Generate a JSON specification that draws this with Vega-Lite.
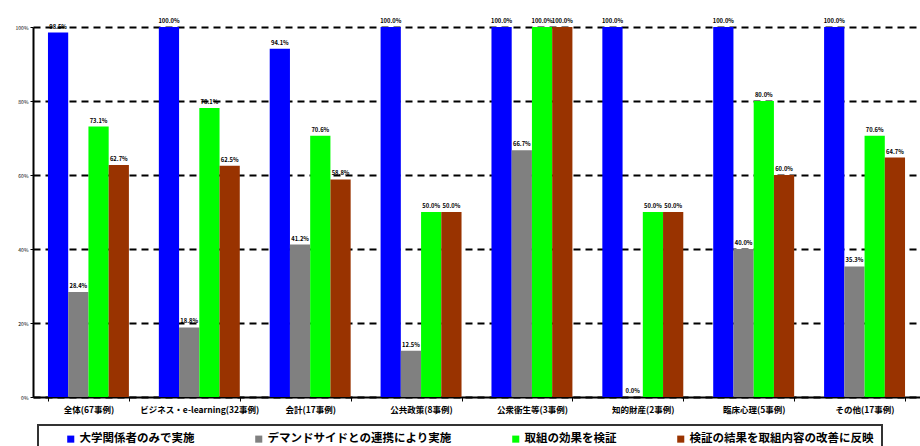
{
  "$schema": "https://vega.github.io/schema/vega-lite/v6.json",
  "width": 887,
  "height": 370,
  "autosize": {"type": "none"},
  "padding": {"left": 33, "top": 27, "right": 0, "bottom": 49},
  "background": "white",
  "config": {
    "font": "Noto Sans CJK JP",
    "view": {"stroke": null}
  },
  "data": {
    "values": [
      {"c": "全体(67事例)", "s": "大学関係者のみで実施", "v": 0.985},
      {"c": "全体(67事例)", "s": "デマンドサイドとの連携により実施", "v": 0.284},
      {"c": "全体(67事例)", "s": "取組の効果を検証", "v": 0.731},
      {"c": "全体(67事例)", "s": "検証の結果を取組内容の改善に反映", "v": 0.627},
      {"c": "ビジネス・e-learning(32事例)", "s": "大学関係者のみで実施", "v": 1.0},
      {"c": "ビジネス・e-learning(32事例)", "s": "デマンドサイドとの連携により実施", "v": 0.188},
      {"c": "ビジネス・e-learning(32事例)", "s": "取組の効果を検証", "v": 0.781},
      {"c": "ビジネス・e-learning(32事例)", "s": "検証の結果を取組内容の改善に反映", "v": 0.625},
      {"c": "会計(17事例)", "s": "大学関係者のみで実施", "v": 0.941},
      {"c": "会計(17事例)", "s": "デマンドサイドとの連携により実施", "v": 0.412},
      {"c": "会計(17事例)", "s": "取組の効果を検証", "v": 0.706},
      {"c": "会計(17事例)", "s": "検証の結果を取組内容の改善に反映", "v": 0.588},
      {"c": "公共政策(8事例)", "s": "大学関係者のみで実施", "v": 1.0},
      {"c": "公共政策(8事例)", "s": "デマンドサイドとの連携により実施", "v": 0.125},
      {"c": "公共政策(8事例)", "s": "取組の効果を検証", "v": 0.5},
      {"c": "公共政策(8事例)", "s": "検証の結果を取組内容の改善に反映", "v": 0.5},
      {"c": "公衆衛生等(3事例)", "s": "大学関係者のみで実施", "v": 1.0},
      {"c": "公衆衛生等(3事例)", "s": "デマンドサイドとの連携により実施", "v": 0.667},
      {"c": "公衆衛生等(3事例)", "s": "取組の効果を検証", "v": 1.0},
      {"c": "公衆衛生等(3事例)", "s": "検証の結果を取組内容の改善に反映", "v": 1.0},
      {"c": "知的財産(2事例)", "s": "大学関係者のみで実施", "v": 1.0},
      {"c": "知的財産(2事例)", "s": "デマンドサイドとの連携により実施", "v": 0.0},
      {"c": "知的財産(2事例)", "s": "取組の効果を検証", "v": 0.5},
      {"c": "知的財産(2事例)", "s": "検証の結果を取組内容の改善に反映", "v": 0.5},
      {"c": "臨床心理(5事例)", "s": "大学関係者のみで実施", "v": 1.0},
      {"c": "臨床心理(5事例)", "s": "デマンドサイドとの連携により実施", "v": 0.4},
      {"c": "臨床心理(5事例)", "s": "取組の効果を検証", "v": 0.8},
      {"c": "臨床心理(5事例)", "s": "検証の結果を取組内容の改善に反映", "v": 0.6},
      {"c": "その他(17事例)", "s": "大学関係者のみで実施", "v": 1.0},
      {"c": "その他(17事例)", "s": "デマンドサイドとの連携により実施", "v": 0.353},
      {"c": "その他(17事例)", "s": "取組の効果を検証", "v": 0.706},
      {"c": "その他(17事例)", "s": "検証の結果を取組内容の改善に反映", "v": 0.647}
    ]
  },
  "encoding": {
    "x": {
      "field": "c", "type": "nominal", "sort": null,
      "scale": {"paddingInner": 0.27, "paddingOuter": 0.135},
      "axis": {
        "title": null, "labelAngle": 0, "labelFontSize": 8.5, "labelFontWeight": "bold",
        "labelColor": "black", "labelPadding": 4, "ticks": true, "tickBand": "extent",
        "tickSize": 4, "tickColor": "black", "tickWidth": 1,
        "domainColor": "black", "domainWidth": 2, "labelLimit": 200
      }
    },
    "xOffset": {
      "field": "s", "type": "nominal", "sort": null,
      "scale": {"paddingInner": 0, "paddingOuter": 0}
    },
    "y": {
      "field": "v", "type": "quantitative",
      "scale": {"domain": [0, 1], "nice": false},
      "axis": {
        "title": null, "format": ".0%", "values": [0, 0.2, 0.4, 0.6, 0.8, 1.0],
        "labelFontSize": 5, "labelColor": "black", "labelPadding": 2,
        "tickSize": 3, "tickColor": "black", "tickWidth": 1,
        "domainColor": "black", "domainWidth": 2,
        "grid": true, "gridColor": "black", "gridWidth": 2, "gridDash": [7, 5]
      }
    }
  },
  "layer": [
    {
      "mark": {"type": "bar"},
      "encoding": {
        "color": {
          "field": "s", "type": "nominal", "sort": null,
          "scale": {
            "domain": ["大学関係者のみで実施", "デマンドサイドとの連携により実施", "取組の効果を検証", "検証の結果を取組内容の改善に反映"],
            "range": ["#0000FF", "#808080", "#00FF00", "#993300"]
          },
          "legend": {
            "orient": "none", "legendX": 5, "legendY": 398,
            "direction": "horizontal", "columns": 4, "columnPadding": 58,
            "title": "\u3000", "titleOrient": "left", "titlePadding": 19, "titleFontSize": 12,
            "symbolType": "square", "symbolSize": 50, "symbolStrokeWidth": 0,
            "labelFontSize": 11.5, "labelFontWeight": "bold", "labelColor": "black",
            "labelOffset": 3, "labelLimit": 400,
            "strokeColor": "#333333", "padding": 8,
            "encode": {"legend": {"update": {"strokeWidth": {"value": 2}}}}
          }
        }
      }
    },
    {
      "mark": {"type": "text", "dy": -6, "fontSize": 5.8, "fontWeight": "bold", "color": "black"},
      "encoding": {
        "text": {"field": "v", "type": "quantitative", "format": ".1%"}
      }
    }
  ]
}
